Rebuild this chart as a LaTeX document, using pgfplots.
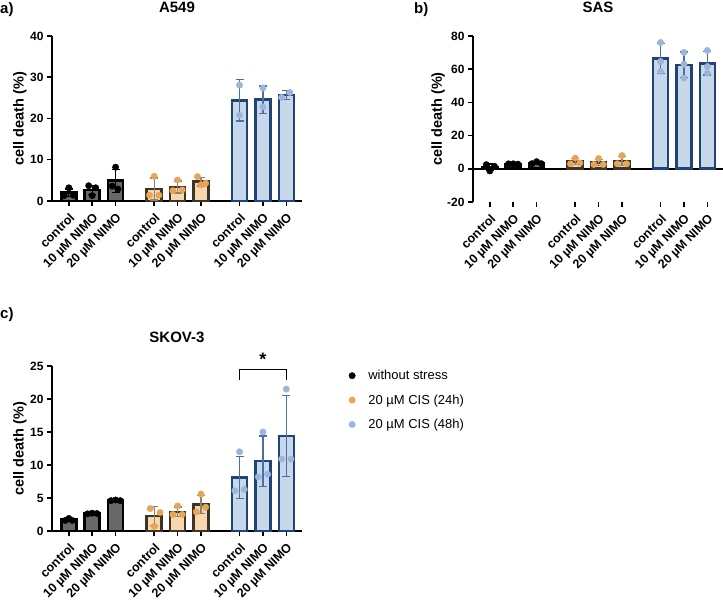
\documentclass[border=0pt]{standalone}
\usepackage{pgfplots}
\pgfplotsset{compat=1.18}
\usepackage{fontspec}
\setmainfont{Liberation Sans}

% group colours
\definecolor{gAfill}{HTML}{686868}
\definecolor{gAedge}{HTML}{000000}
\definecolor{gAdot}{HTML}{000000}
\definecolor{gAerr}{HTML}{000000}
\definecolor{gBfill}{HTML}{F8D7AF}
\definecolor{gBedge}{HTML}{3D3428}
\definecolor{gBdot}{HTML}{E9A556}
\definecolor{gBerr}{HTML}{8E8274}
\definecolor{gCfill}{HTML}{C8D8EB}
\definecolor{gCedge}{HTML}{1F4475}
\definecolor{gCdot}{HTML}{9BB6DB}
\definecolor{gCerr}{HTML}{4A6FA5}

\pgfplotsset{
  panel/.style={
    scale only axis, width=250pt,
    axis y line*=left, axis x line*=bottom,
    axis line style={line width=1.8pt, -},
    tick style={line width=1.5pt, black},
    major tick length=5pt, tick align=outside,
    xmin=-0.72, xmax=9.97,
    xtick={0,1,2,3.65,4.65,5.65,7.3,8.3,9.3},
    xticklabels={control,10 µM NIMO,20 µM NIMO,control,10 µM NIMO,20 µM NIMO,control,10 µM NIMO,20 µM NIMO},
    tick label style={font=\bfseries\fontsize{12}{14}\selectfont},
    xticklabel style={xshift=0pt, yshift=-6pt, rotate=45, anchor=north east, inner sep=0pt,
      font=\bfseries\fontsize{12.5}{15}\selectfont},
    /pgf/number format/assume math mode=true,
    ylabel={cell death (\%)},
    ylabel style={font=\bfseries\fontsize{14.5}{16}\selectfont, anchor=center},
    title style={font=\bfseries\fontsize{15}{17}\selectfont, at={(0.5,1)}, anchor=south, yshift=14pt},
    clip=false,
  },
  barA/.style={ybar, bar shift=0pt, bar width=15pt, fill=gAfill, draw=gAedge, line width=2.6pt, forget plot},
  barB/.style={ybar, bar shift=0pt, bar width=15pt, fill=gBfill, draw=gBedge, line width=2.6pt, forget plot},
  barC/.style={ybar, bar shift=0pt, bar width=15pt, fill=gCfill, draw=gCedge, line width=2.6pt, forget plot},
  errs/.style={draw=none, mark=none, forget plot,
    error bars/.cd, y dir=both, y explicit,
    error bar style={line width=1.2pt, color=#1},
    error mark options={rotate=90, mark size=4pt, line width=1.2pt, color=#1}},
  dots/.style={only marks, mark=*, mark size=3.2pt, color=#1, forget plot},
}

\begin{document}
\begin{tikzpicture}
\path[use as bounding box] (0,0) rectangle (723pt,600pt);

\node[anchor=west, font=\bfseries\fontsize{15}{17}\selectfont, inner sep=0pt] at (0pt,590pt) {a)};
\node[anchor=west, font=\bfseries\fontsize{15}{17}\selectfont, inner sep=0pt] at (414pt,590pt) {b)};
\node[anchor=west, font=\bfseries\fontsize{15}{17}\selectfont, inner sep=0pt] at (0pt,285pt) {c)};

% ---------------- A549 ----------------
\begin{axis}[panel, at={(52pt,399pt)}, anchor=south west, height=165pt,
  ymin=0, ymax=40, ytick={0,10,20,30,40}, title={A549},
  ylabel style={at={(axis description cs:-0.128,0.5)}}]
\addplot[barA] coordinates {(0,2.0) (1,2.7) (2,4.9)};
\addplot[barB] coordinates {(3.65,2.9) (4.65,3.4) (5.65,4.7)};
\addplot[barC] coordinates {(7.3,24.4) (8.3,24.6) (9.3,25.7)};
\addplot[errs=gAerr] coordinates {(0,2.0) +- (0,0.9) (1,2.7) +- (0,1.1) (2,4.9) +- (0,2.8)};
\addplot[errs=gBerr] coordinates {(3.65,2.9) +- (0,2.66) (4.65,3.4) +- (0,1.45) (5.65,4.7) +- (0,1.04)};
\addplot[errs=gCerr] coordinates {(7.3,24.4) +- (0,5.0) (8.3,24.6) +- (0,3.3) (9.3,25.7) +- (0,1.0)};
\addplot[dots=gAdot] coordinates {(0,3.2) (-0.2,1.3) (0.2,1.4) (0.85,3.7) (1.15,3.2) (1.0,1.3) (2,8.2) (1.85,3.6) (2.1,2.9)};
\addplot[dots=gBdot] coordinates {(3.65,6.0) (3.45,1.4) (3.85,1.4) (4.65,5.1) (4.45,2.5) (4.85,2.7) (5.5,5.9) (5.85,4.3) (5.65,3.9)};
\addplot[dots=gCdot] coordinates {(7.3,28.1) (7.3,20.8) (8.3,27.4) (8.3,22.8) (9.1,25.1) (9.45,26.3)};
\end{axis}

% ---------------- SAS ----------------
\begin{axis}[panel, at={(473pt,398pt)}, anchor=south west, height=166pt,
  ymin=-20, ymax=80, ytick={-20,0,20,40,60,80}, title={SAS},
  x axis line style={draw=none},
  ylabel style={at={(axis description cs:-0.14,0.5)}}]
\addplot[black, line width=1.8pt, forget plot] coordinates {(-0.72,0) (9.97,0)};
\addplot[barA] coordinates {(0,1.0) (1,2.9) (2,3.5)};
\addplot[barB] coordinates {(3.65,4.3) (4.65,3.8) (5.65,4.7)};
\addplot[barC] coordinates {(7.3,66.4) (8.3,62.6) (9.3,63.5)};
\addplot[errs=gAerr] coordinates {(0,1.0) +- (0,1.9) (1,2.9) +- (0,0.3) (2,3.5) +- (0,0.7)};
\addplot[errs=gBerr] coordinates {(3.65,4.3) +- (0,1.9) (4.65,3.8) +- (0,2.0) (5.65,4.7) +- (0,2.9)};
\addplot[errs=gCerr] coordinates {(7.3,66.4) +- (0,8.9) (8.3,62.6) +- (0,7.8) (9.3,63.5) +- (0,7.0)};
\addplot[dots=gAdot] coordinates {(-0.15,2.5) (0,-1.3) (0.2,1.5) (0.8,3.0) (1,3.0) (1.2,2.8) (2,4.3) (1.8,3.1) (2.2,3.1)};
\addplot[dots=gBdot] coordinates {(3.65,6.5) (3.45,3.0) (3.85,3.5) (4.65,6.2) (4.45,2.6) (4.85,2.6) (5.65,8.0) (5.45,3.0) (5.85,3.0)};
\addplot[dots=gCdot] coordinates {(7.3,76.1) (7.3,64.6) (7.3,58.6) (8.3,70.1) (8.3,63.0) (8.3,54.6) (9.3,71.3) (9.3,61.6) (9.3,57.6)};
\end{axis}

% ---------------- SKOV-3 ----------------
\begin{axis}[panel, at={(52pt,69pt)}, anchor=south west, height=165pt,
  ymin=0, ymax=25, ytick={0,5,10,15,20,25}, title={SKOV-3},
  ylabel style={at={(axis description cs:-0.128,0.5)}},
  legend style={at={(1.175,1.0)}, anchor=north west, draw=none, fill=none,
    font=\fontsize{13}{15}\selectfont, row sep=9.5pt,
    /tikz/every odd column/.append style={column sep=11pt}},
  legend cell align=left]
\addplot[barA] coordinates {(0,1.7) (1,2.65) (2,4.6)};
\addplot[barB] coordinates {(3.65,2.3) (4.65,2.9) (5.65,4.0)};
\addplot[barC] coordinates {(7.3,8.1) (8.3,10.6) (9.3,14.4)};
\addplot[errs=gAerr] coordinates {(0,1.7) +- (0,0.2) (1,2.65) +- (0,0.1) (2,4.6) +- (0,0.1)};
\addplot[errs=gBerr] coordinates {(3.65,2.3) +- (0,1.42) (4.65,2.9) +- (0,0.75) (5.65,4.0) +- (0,1.4)};
\addplot[errs=gCerr] coordinates {(7.3,8.1) +- (0,3.2) (8.3,10.6) +- (0,3.8) (9.3,14.4) +- (0,6.1)};
\addplot[dots=gAdot] coordinates {(-0.15,1.6) (0,1.9) (0.15,1.6) (0.8,2.6) (1,2.7) (1.2,2.65) (1.8,4.6) (2,4.7) (2.2,4.6)};
\addplot[dots=gBdot] coordinates {(3.48,3.4) (3.9,2.8) (3.65,0.7) (4.65,3.8) (4.45,2.5) (4.85,2.5) (5.65,5.6) (5.45,2.9) (5.85,3.6)};
\addplot[dots=gCdot] coordinates {(7.3,12.0) (7.1,6.1) (7.5,6.3) (8.3,15.0) (8.1,8.2) (8.5,8.6) (9.3,21.5) (9.1,10.9) (9.5,10.9)};
% significance bracket
\addplot[black, line width=1.5pt, forget plot] coordinates {(7.3,22.9) (7.3,24.5) (9.3,24.5) (9.3,22.9)};
\node[font=\bfseries\fontsize{18}{18}\selectfont] at (axis cs:8.3,26.0) {*};
\addlegendimage{only marks, mark=*, mark size=3.2pt, color=gAdot}
\addlegendentry{without stress}
\addlegendimage{only marks, mark=*, mark size=3.2pt, color=gBdot}
\addlegendentry{20 µM CIS (24h)}
\addlegendimage{only marks, mark=*, mark size=3.2pt, color=gCdot}
\addlegendentry{20 µM CIS (48h)}
\end{axis}
\end{tikzpicture}
\end{document}
